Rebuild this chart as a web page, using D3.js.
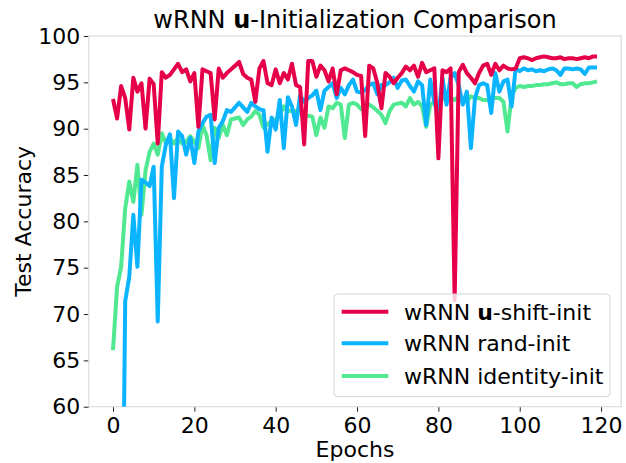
<!DOCTYPE html>
<html>
<head>
<meta charset="utf-8">
<script src="https://cdn.jsdelivr.net/npm/d3@7"></script>
<style>
  html, body { margin: 0; padding: 0; background: #fff; }
  svg { display: block; font-family: "DejaVu Sans", sans-serif; }
</style>
</head>
<body>
<svg id="chart" width="626" height="463"></svg>
<script>
// ---- Data ----
const epochs = d3.range(0, 120);

const uShift = [
  93.2, 91.1, 94.6, 93.3, 89.9, 95.5, 94.0, 94.9, 90.0, 95.4,
  94.8, 88.4, 96.1, 95.5, 95.8, 96.4, 97.0, 96.1, 96.4, 95.1,
  96.0, 90.2, 96.4, 96.2, 96.0, 91.0, 96.5, 95.5, 96.0, 96.4,
  96.8, 97.2, 95.9, 95.5, 95.3, 92.9, 96.5, 97.3, 94.9, 94.7,
  96.4, 94.9, 96.0, 95.3, 97.0, 94.7, 94.5, 88.3, 97.3, 97.3,
  95.6, 96.8, 96.3, 95.1, 96.5, 93.7, 96.3, 96.5, 96.3, 96.1,
  95.8, 95.7, 89.2, 96.8, 96.5, 94.9, 92.2, 96.0, 95.6, 94.9,
  95.5, 96.0, 96.7, 96.3, 96.8, 95.6, 97.1, 96.1, 96.3, 96.5,
  86.8, 96.3, 96.1, 96.5, 71.5, 96.1, 96.9, 96.0, 95.5, 94.9,
  96.0, 96.8, 97.0, 95.8, 97.0, 96.3, 96.8, 96.5, 96.4, 96.5,
  97.6, 97.7, 97.6, 97.4, 97.6, 97.7, 97.8, 97.7, 97.6, 97.6,
  97.7, 97.5, 97.6, 97.6, 97.5, 97.6, 97.7, 97.6, 97.8, 97.8
];

const randInit = [
  10.0, 10.0, 29.0, 71.4, 74.0, 80.7, 75.1, 84.5, 84.2, 83.8,
  85.9, 69.2, 85.9, 88.3, 89.4, 82.5, 89.7, 89.2, 87.2, 89.0,
  86.3, 89.7, 90.6, 91.3, 91.5, 86.3, 90.1, 90.8, 92.0, 91.8,
  92.3, 92.8, 92.3, 91.8, 92.8, 92.4, 92.1, 92.0, 87.5, 91.2,
  89.9, 93.1, 87.9, 93.4, 92.4, 90.4, 93.6, 92.9, 93.3, 93.6,
  94.1, 92.0, 94.1, 94.5, 94.9, 93.3, 94.4, 93.7, 94.7, 95.3,
  94.0, 93.9, 94.2, 94.7, 94.9, 93.7, 94.7, 94.7, 95.0, 95.5,
  94.4, 95.2, 95.3, 94.6, 94.0, 95.1, 94.7, 90.4, 95.3, 92.9,
  91.3, 95.5, 92.6, 95.5, 96.0, 94.7, 92.6, 94.0, 87.9, 93.3,
  94.7, 94.9, 94.7, 91.7, 96.0, 94.0, 95.1, 95.3, 92.4, 96.5,
  96.2, 96.5, 96.3, 96.4, 96.2, 96.3, 96.2, 96.4, 96.5, 96.3,
  95.8, 96.5, 96.5, 96.4, 96.5, 96.4, 95.9, 96.6, 96.6, 96.6
];

const identityInit = [
  66.1, 72.9, 75.1, 81.4, 84.3, 82.1, 86.1, 80.7, 85.5, 87.5,
  88.4, 87.2, 89.5, 88.4, 89.0, 88.4, 89.0, 88.4, 88.6, 89.2,
  88.6, 87.9, 90.4, 89.3, 86.6, 90.1, 89.0, 90.4, 89.3, 91.0,
  91.1, 91.2, 90.4, 91.0, 91.3, 91.9, 91.5, 90.1, 90.5, 90.8,
  91.0, 91.5, 92.4, 91.9, 91.9, 91.9, 91.9, 91.2, 91.4, 91.3,
  89.3, 91.2, 90.1, 92.4, 92.2, 92.8, 92.6, 89.0, 92.6, 92.8,
  92.6, 92.1, 92.2, 92.6, 92.3, 91.9, 91.5, 90.6, 91.9, 92.6,
  92.7, 92.8, 92.4, 93.3, 92.6, 92.9, 92.4, 90.2, 92.6, 92.9,
  92.6, 93.3, 93.1, 93.3, 93.1, 93.5, 93.3, 92.9, 93.5, 93.3,
  93.3, 93.1, 93.1, 93.3, 93.3, 93.3, 92.9, 89.7, 93.5, 94.4,
  94.6, 94.5, 94.6, 94.6, 94.7, 94.7, 94.8, 94.8, 94.9, 95.0,
  94.8, 94.8, 94.9, 94.9, 94.5, 94.8, 94.9, 94.9, 95.0, 95.1
];

const seriesNames = ["u-shift-init", "rand-init", "identity-init"];
const seriesColors = ["#e60049", "#0bb4ff", "#50e991"];
const xTicks = [0, 20, 40, 60, 80, 100, 120];
const yTicks = [60, 65, 70, 75, 80, 85, 90, 95, 100];

// ---- Layout ----
const svg = d3.select("#chart");
const L = 88.8, R = 621.2, T = 36, B = 406.7;
const FS = 22;

const x = d3.scaleLinear().domain([-5.95, 124.95]).range([L, R]);
const y = d3.scaleLinear().domain([60, 100]).range([B, T]);

svg.append("defs").append("clipPath").attr("id", "plotclip")
  .append("rect").attr("x", L).attr("y", T).attr("width", R - L).attr("height", B - T);

// Axes
const xAxis = d3.axisBottom(x).tickValues(xTicks).tickSize(5).tickPadding(5).tickFormat(d3.format("d"));
const yAxis = d3.axisLeft(y).tickValues(yTicks).tickSize(5).tickPadding(3.5).tickFormat(d3.format("d"));

const gx = svg.append("g").attr("transform", `translate(0,${B})`).call(xAxis);
const gy = svg.append("g").attr("transform", `translate(${L},0)`).call(yAxis);
[gx, gy].forEach(g => {
  g.select(".domain").remove();
  g.selectAll(".tick line").attr("stroke", "#222").attr("stroke-width", 1);
  g.selectAll(".tick text").attr("fill", "#000").style("font-size", FS + "px")
    .style("font-family", "DejaVu Sans, sans-serif");
});
gx.selectAll(".tick text").attr("dy", "0.76em");

// Spines (light gray frame)
svg.append("rect").attr("x", L).attr("y", T).attr("width", R - L).attr("height", B - T)
  .attr("fill", "none").attr("stroke", "#dcdcdc").attr("stroke-width", 1.2);

// Lines
const line = d3.line().x((d, i) => x(epochs[i])).y(d => y(d));
const plotG = svg.append("g").attr("clip-path", "url(#plotclip)");
const drawOrder = [
  { data: identityInit, color: seriesColors[2] },
  { data: randInit, color: seriesColors[1] },
  { data: uShift, color: seriesColors[0] }
];
drawOrder.forEach(s => {
  plotG.append("path").datum(s.data)
    .attr("d", line)
    .attr("fill", "none")
    .attr("stroke", s.color)
    .attr("stroke-width", 4)
    .attr("stroke-linejoin", "round")
    .attr("stroke-linecap", "butt");
});

// Title
const title = svg.append("text").attr("x", (L + R) / 2).attr("y", 28)
  .attr("text-anchor", "middle").style("font-size", "24px").attr("fill", "#000");
title.append("tspan").text("wRNN ");
title.append("tspan").attr("font-weight", "bold").text("u");
title.append("tspan").text("-Initialization Comparison");

// Axis labels
svg.append("text").attr("x", (L + R) / 2).attr("y", 457).attr("text-anchor", "middle")
  .style("font-size", FS + "px").attr("fill", "#000").text("Epochs");
svg.append("text").attr("transform", `translate(31,${(T + B) / 2}) rotate(-90)`)
  .attr("text-anchor", "middle").style("font-size", FS + "px").attr("fill", "#000")
  .text("Test Accuracy");

// Legend
const lg = svg.append("g");
lg.append("rect").attr("x", 334).attr("y", 294).attr("width", 276).attr("height", 102.7)
  .attr("rx", 4).attr("ry", 4)
  .attr("fill", "#fff").attr("fill-opacity", 0.8)
  .attr("stroke", "#d6d6d6").attr("stroke-width", 1);
const rowsY = [311.7, 343.3, 376];
seriesNames.forEach((name, i) => {
  lg.append("line").attr("x1", 341.7).attr("x2", 388.3).attr("y1", rowsY[i]).attr("y2", rowsY[i])
    .attr("stroke", seriesColors[i]).attr("stroke-width", 4);
  const t = lg.append("text").attr("x", 404).attr("y", rowsY[i] + 8)
    .style("font-size", FS + "px").attr("fill", "#000");
  t.append("tspan").text("wRNN ");
  if (i === 0) {
    t.append("tspan").attr("font-weight", "bold").text("u");
    t.append("tspan").text("-shift-init");
  } else {
    t.append("tspan").text(name);
  }
});
</script>
</body>
</html>
